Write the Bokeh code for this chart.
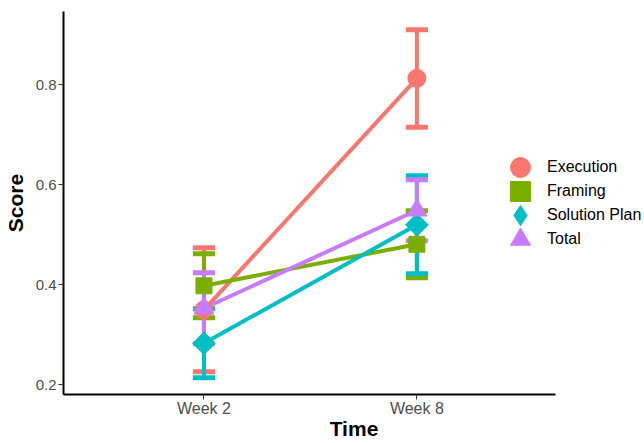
import numpy as np
from bokeh.plotting import figure
from bokeh.models import Range1d, FixedTicker, Legend, LegendItem, ColumnDataSource
from bokeh.embed import file_html
from bokeh.resources import INLINE

# ---- data ----
weeks = ["Week 2", "Week 8"]
week_pos = [1, 2]
groups = ["Execution", "Framing", "Solution Plan", "Total"]
means = {
    "Execution":     [0.350, 0.813],
    "Framing":       [0.398, 0.481],
    "Solution Plan": [0.283, 0.520],
    "Total":         [0.353, 0.549],
}
lower = {
    "Execution":     [0.226, 0.715],
    "Framing":       [0.334, 0.414],
    "Solution Plan": [0.214, 0.422],
    "Total":         [0.282, 0.488],
}
upper = {
    "Execution":     [0.474, 0.910],
    "Framing":       [0.462, 0.548],
    "Solution Plan": [0.352, 0.618],
    "Total":         [0.424, 0.610],
}
y_ticks = [0.2, 0.4, 0.6, 0.8]

colors = {"Execution": "#F8766D", "Framing": "#7CAE00",
          "Solution Plan": "#00BFC4", "Total": "#C77CFF"}
markers = {"Execution": ("circle", 18, 0.0), "Framing": ("square", 16, 0.0),
           "Solution Plan": ("square", 16, np.pi / 4), "Total": ("triangle", 20, 0.0)}
legend_markers = {"Execution": "circle", "Framing": "square",
                  "Solution Plan": "diamond", "Total": "triangle"}

FONT = "Liberation Sans"

p = figure(width=644, height=443, output_backend="svg", toolbar_location=None,
           x_range=Range1d(0.3404, 3.069), y_range=Range1d(0.1806, 0.9466),
           min_border_left=62, min_border_right=0, min_border_top=11, min_border_bottom=49)
p.outline_line_color = None
p.xgrid.visible = False
p.ygrid.visible = False
p.background_fill_color = "white"
p.border_fill_color = "white"

cap_half = 0.052
# lines
for g in groups:
    p.line(week_pos, means[g], line_color=colors[g], line_width=4)
# error bars
for g in groups:
    src = ColumnDataSource(dict(x=week_pos, lo=lower[g], hi=upper[g],
                                xl=[x - cap_half for x in week_pos],
                                xr=[x + cap_half for x in week_pos]))
    p.segment(x0="x", y0="lo", x1="x", y1="hi", source=src, line_color=colors[g], line_width=4)
    p.segment(x0="xl", y0="lo", x1="xr", y1="lo", source=src, line_color=colors[g], line_width=5)
    p.segment(x0="xl", y0="hi", x1="xr", y1="hi", source=src, line_color=colors[g], line_width=5)
# points (a legend-key marker first, hidden under the plotted marker)
leg_rend = {}
for g in groups:
    m, s, a = markers[g]
    if legend_markers[g] != m or a != 0.0:
        leg_rend[g] = p.scatter(week_pos, means[g], marker=legend_markers[g], size=s + 4,
                                fill_color=colors[g], line_color=colors[g])
    r = p.scatter(week_pos, means[g], marker=m, size=s, angle=a,
                  fill_color=colors[g], line_color=colors[g])
    leg_rend.setdefault(g, r)

# axes
p.xaxis.ticker = FixedTicker(ticks=week_pos)
p.xaxis.major_label_overrides = {k: v for k, v in zip(week_pos, weeks)}
p.xaxis.bounds = (0.3404, 2.6517)
p.yaxis.ticker = FixedTicker(ticks=y_ticks)
p.yaxis.major_label_overrides = {t: f"{t:.1f}" for t in y_ticks}
for ax in (p.xaxis, p.yaxis):
    ax.axis_line_color = "black"
    ax.axis_line_width = 2
    ax.major_tick_line_color = "#333333"
    ax.major_tick_line_width = 1
    ax.major_tick_out = 5
    ax.major_tick_in = 0
    ax.minor_tick_line_color = None
    ax.major_label_text_font = FONT
    ax.major_label_text_color = "#4D4D4D"
    ax.axis_label_text_font = FONT
    ax.axis_label_text_font_style = "bold"
    ax.axis_label_text_color = "black"
    ax.axis_label_text_font_size = "21px"
p.xaxis.major_label_text_font_size = "16px"
p.yaxis.major_label_text_font_size = "15px"
p.xaxis.axis_label = "Time"
p.yaxis.axis_label = "Score"
p.xaxis.major_label_standoff = 0
p.yaxis.major_label_standoff = 2
p.xaxis.axis_label_standoff = -3
p.yaxis.axis_label_standoff = 6

# legend: one single-item legend per row so keys can be large while rows stay 24px apart
row_pitch = 24
for i, g in enumerate(groups):
    leg = Legend(items=[LegendItem(label=g, renderers=[leg_rend[g]])],
                 location=(432, 202 - i * row_pitch), orientation="vertical")
    leg.padding = 0
    leg.margin = 0
    leg.spacing = 0
    leg.glyph_width = 50
    leg.glyph_height = 50
    leg.label_height = 24
    leg.label_standoff = 2
    leg.border_line_color = None
    leg.background_fill_alpha = 0
    leg.label_text_font = FONT
    leg.label_text_font_size = "16px"
    leg.label_text_color = "black"
    p.add_layout(leg)

open("out.html", "w").write(file_html(p, INLINE))
